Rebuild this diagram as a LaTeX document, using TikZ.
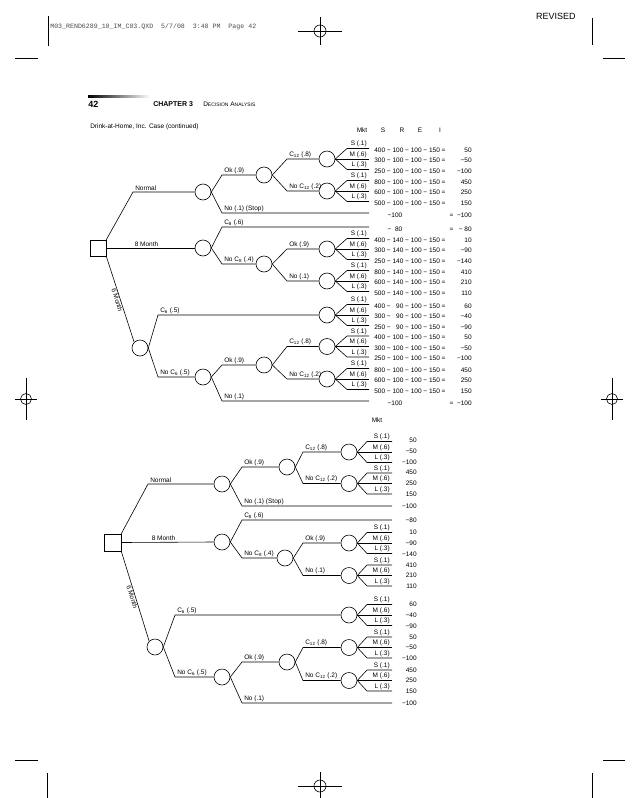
\documentclass[tikz,border=0pt]{standalone}
\usepackage{fontspec}
\setmainfont{Liberation Sans}
\newfontfamily\monof{Liberation Mono}
\newcommand\fs{\fontsize{6.5}{7.5}\selectfont}
\newcommand\sub[1]{\textsubscript{#1}}
\newcommand\eqq[2]{#1 − #2 − 100 − 150 =}
\newcommand\fan[5]{%
 \node[chn] (#1) at (#2,#3) {};
 \draw (#1.east) -- (#2+#4,#3-10.5) -- (#2+#5,#3-10.5) node[lbl,anchor=south east,xshift=-1pt]{S (.1)};
 \draw (#1.east) -- (#2+#5,#3) node[lbl,anchor=south east,xshift=-1pt]{M (.6)};
 \draw (#1.east) -- (#2+#4,#3+10.5) -- (#2+#5,#3+10.5) node[lbl,anchor=south east,xshift=-1pt]{L (.3)};}
\newcommand\br[5]{\draw (#1) -- (#2,#3) -- (#4); \node[lbl,anchor=south west] at (#2+1,#3) {#5};}
\newcommand\rowU[3]{\node[lbl,anchor=west] at (373,#1+1.5) {#2}; \node[lbl,anchor=east] at (473,#1+1.5) {#3};}
\newcommand\valL[2]{\node[lbl,anchor=east] at (418,#1) {#2};}
\newcommand\regH[2]{\draw (#1-22,#2)--(#1+22,#2) (#1,#2-14)--(#1,#2+14); \draw (#1,#2) circle(6);}
\newcommand\regV[2]{\draw (#1-11,#2)--(#1+11,#2) (#1,#2-21)--(#1,#2+21); \draw (#1,#2) circle(5.5);}
\begin{document}
\begin{tikzpicture}[x=1pt,y=-1pt,line width=0.6pt,
 chn/.style={circle,draw,minimum size=16pt,inner sep=0pt},
 dec/.style={rectangle,draw,minimum size=16pt,inner sep=0pt},
 lbl/.style={font=\fs,inner sep=1pt}]
\useasboundingbox (0,0) rectangle (638,798);
% page marks
\draw (48,16)--(48,46) (592,18)--(592,45) (15,58)--(38,58) (603,58)--(625,58);
\draw (15,760)--(38,760) (603,760)--(625,760) (47,773)--(47,798) (592,773)--(592,798);
\regH{320}{31}\regH{320}{786}\regV{26}{399}\regV{612}{399}
\node[anchor=west,inner sep=0pt,font=\monof\fontsize{6.6}{7}\selectfont,text=black!70] at (50,27) {M03\_REND6289\_10\_IM\_C03.QXD\ \ 5/7/08\ \ 3:48 PM\ \ Page 42};
\node[anchor=east,inner sep=0pt,font=\fontsize{9}{10}\selectfont] at (576,16) {REVISED};
\shade[left color=black,right color=white] (88,95.5) rectangle (150,97.5);
\node[anchor=west,inner sep=0pt,font=\bfseries\fontsize{9}{10}\selectfont] at (88,104) {42};
\node[anchor=west,inner sep=0pt,font=\bfseries\fontsize{7}{8}\selectfont] at (153,104) {CHAPTER 3};
\node[anchor=west,inner sep=0pt,font=\fontsize{6.5}{8}\selectfont] at (203,104) {D{\fontsize{5}{6}\selectfont ECISION} A{\fontsize{5}{6}\selectfont NALYSIS}};
\node[anchor=west,lbl] at (89,127) {Drink-at-Home, Inc. Case (continued)};
% ===== upper tree
\node[lbl] at (362,130) {Mkt};
\node[lbl] at (383,130) {S};\node[lbl] at (402,130) {R};\node[lbl] at (420,130) {E};\node[lbl] at (440,130) {I};
\node[dec] (sq1) at (98,248) {};
\node[chn] (A) at (203,192) {};
\node[chn] (B) at (203,248) {};
\node[chn] (C) at (140,348) {};
\node[chn] (G) at (264,175) {};
\node[chn] (D) at (264,264) {};
\node[chn] (E) at (203,377) {};
\node[chn] (F) at (264,365) {};
\fan{u1}{327}{159}{20}{42}
\fan{u2}{327}{191}{20}{42}
\fan{u3}{327}{249}{20}{42}
\fan{u4}{327}{281}{20}{42}
\fan{u5}{327}{315}{20}{42}
\fan{u6}{327}{346.5}{20}{42}
\fan{u7}{327}{379}{20}{42}
\coordinate (ta) at (369,213);\coordinate (tb) at (369,227);\coordinate (tc) at (369,401);
\br{sq1.north east}{133}{192}{A.west}{Normal}
\draw (sq1.east) -- (B.west) node[lbl,midway,above,xshift=-4pt]{8 Month};
\draw (sq1.south east) -- (C.north west) node[lbl,pos=0.5,below,sloped,inner sep=0.5pt]{6 Month};
\br{A.east}{222}{175}{G.west}{Ok (.9)}
\br{A.east}{222}{213}{ta}{No (.1) (Stop)}
\br{G.east}{287}{159}{u1.west}{C\sub{12} (.8)}
\br{G.east}{287}{191}{u2.west}{No C\sub{12} (.2)}
\br{B.east}{222}{227}{tb}{C\sub{8} (.6)}
\br{B.east}{222}{264}{D.west}{No C\sub{8} (.4)}
\br{D.east}{287}{249}{u3.west}{Ok (.9)}
\br{D.east}{287}{281}{u4.west}{No (.1)}
\br{C.east}{158}{315}{u5.west}{C\sub{6} (.5)}
\br{C.east}{158}{377}{E.west}{No C\sub{6} (.5)}
\br{E.east}{222}{365}{F.west}{Ok (.9)}
\br{E.east}{222}{401}{tc}{No (.1)}
\br{F.east}{287}{346.5}{u6.west}{C\sub{12} (.8)}
\br{F.east}{287}{379}{u7.west}{No C\sub{12} (.2)}
\rowU{148.5}{\eqq{400}{100}}{50}
\rowU{159}{\eqq{300}{100}}{−50}
\rowU{169.5}{\eqq{250}{100}}{−100}
\rowU{180.5}{\eqq{800}{100}}{450}
\rowU{191}{\eqq{600}{100}}{250}
\rowU{201.5}{\eqq{500}{100}}{150}
\node[lbl] at (395,215.5) {−100};\node[lbl,anchor=east] at (473,215.5) {= \ −100};
\node[lbl] at (395,229) {− \ 80};\node[lbl,anchor=east] at (473,229) {= \ \ − 80};
\rowU{238.5}{\eqq{400}{140}}{10}
\rowU{249}{\eqq{300}{140}}{−90}
\rowU{259.5}{\eqq{250}{140}}{−140}
\rowU{270.5}{\eqq{800}{140}}{410}
\rowU{281}{\eqq{600}{140}}{210}
\rowU{291.5}{\eqq{500}{140}}{110}
\rowU{304.5}{\eqq{400}{\phantom{1}90}}{60}
\rowU{315}{\eqq{300}{\phantom{1}90}}{−40}
\rowU{325.5}{\eqq{250}{\phantom{1}90}}{−90}
\rowU{336}{\eqq{400}{100}}{50}
\rowU{346.5}{\eqq{300}{100}}{−50}
\rowU{357}{\eqq{250}{100}}{−100}
\rowU{368.5}{\eqq{800}{100}}{450}
\rowU{379}{\eqq{600}{100}}{250}
\rowU{389.5}{\eqq{500}{100}}{150}
\node[lbl] at (395,403) {−100};\node[lbl,anchor=east] at (473,403) {= \ −100};
% ===== lower tree
\node[lbl] at (377,420) {Mkt};
\node[dec,minimum size=17pt] (sq2) at (112.5,542.5) {};
\node[chn] (A2) at (222,484) {};
\node[chn] (B2) at (222,542) {};
\node[chn] (C2) at (155,647) {};
\node[chn] (G2) at (287,467) {};
\node[chn] (D2) at (285,558) {};
\node[chn] (E2) at (222,677) {};
\node[chn] (F2) at (287,662) {};
\fan{l1}{349}{452}{18}{43}
\fan{l2}{349}{483.5}{18}{43}
\fan{l3}{349}{543}{18}{43}
\fan{l4}{349}{575.5}{18}{43}
\fan{l5}{349}{615}{18}{43}
\fan{l6}{349}{647.5}{18}{43}
\fan{l7}{349}{680.5}{18}{43}
\coordinate (la) at (392,506);\coordinate (lb) at (392,520);\coordinate (lc) at (392,703);
\br{sq2.north east}{148}{484}{A2.west}{Normal}
\draw (sq2.east) -- (B2.west) node[lbl,midway,above,xshift=-4pt]{8 Month};
\draw (sq2.south east) -- (C2.north west) node[lbl,pos=0.5,below,sloped,inner sep=0.5pt]{6 Month};
\br{A2.east}{242}{467}{G2.west}{Ok (.9)}
\br{A2.east}{242}{506}{la}{No (.1) (Stop)}
\br{G2.east}{303}{452}{l1.west}{C\sub{12} (.8)}
\br{G2.east}{303}{483.5}{l2.west}{No C\sub{12} (.2)}
\br{B2.east}{242}{520}{lb}{C\sub{8} (.6)}
\br{B2.east}{242}{558}{D2.west}{No C\sub{8} (.4)}
\br{D2.east}{303}{543}{l3.west}{Ok (.9)}
\br{D2.east}{303}{575.5}{l4.west}{No (.1)}
\br{C2.east}{175}{615}{l5.west}{C\sub{6} (.5)}
\br{C2.east}{175}{677}{E2.west}{No C\sub{6} (.5)}
\br{E2.east}{242}{662}{F2.west}{Ok (.9)}
\br{E2.east}{242}{703}{lc}{No (.1)}
\br{F2.east}{303}{647.5}{l6.west}{C\sub{12} (.8)}
\br{F2.east}{303}{680.5}{l7.west}{No C\sub{12} (.2)}
\valL{440}{50}\valL{451.5}{−50}\valL{462}{−100}
\valL{472.5}{450}\valL{483}{250}\valL{494}{150}
\valL{506}{−100}\valL{520}{−80}
\valL{532}{10}\valL{543}{−90}\valL{554}{−140}
\valL{565}{410}\valL{575.5}{210}\valL{586}{110}
\valL{604}{60}\valL{615}{−40}\valL{626}{−90}
\valL{637}{50}\valL{647.5}{−50}\valL{658}{−100}
\valL{670}{450}\valL{680.5}{250}\valL{691}{150}
\valL{703}{−100}
\end{tikzpicture}
\end{document}
